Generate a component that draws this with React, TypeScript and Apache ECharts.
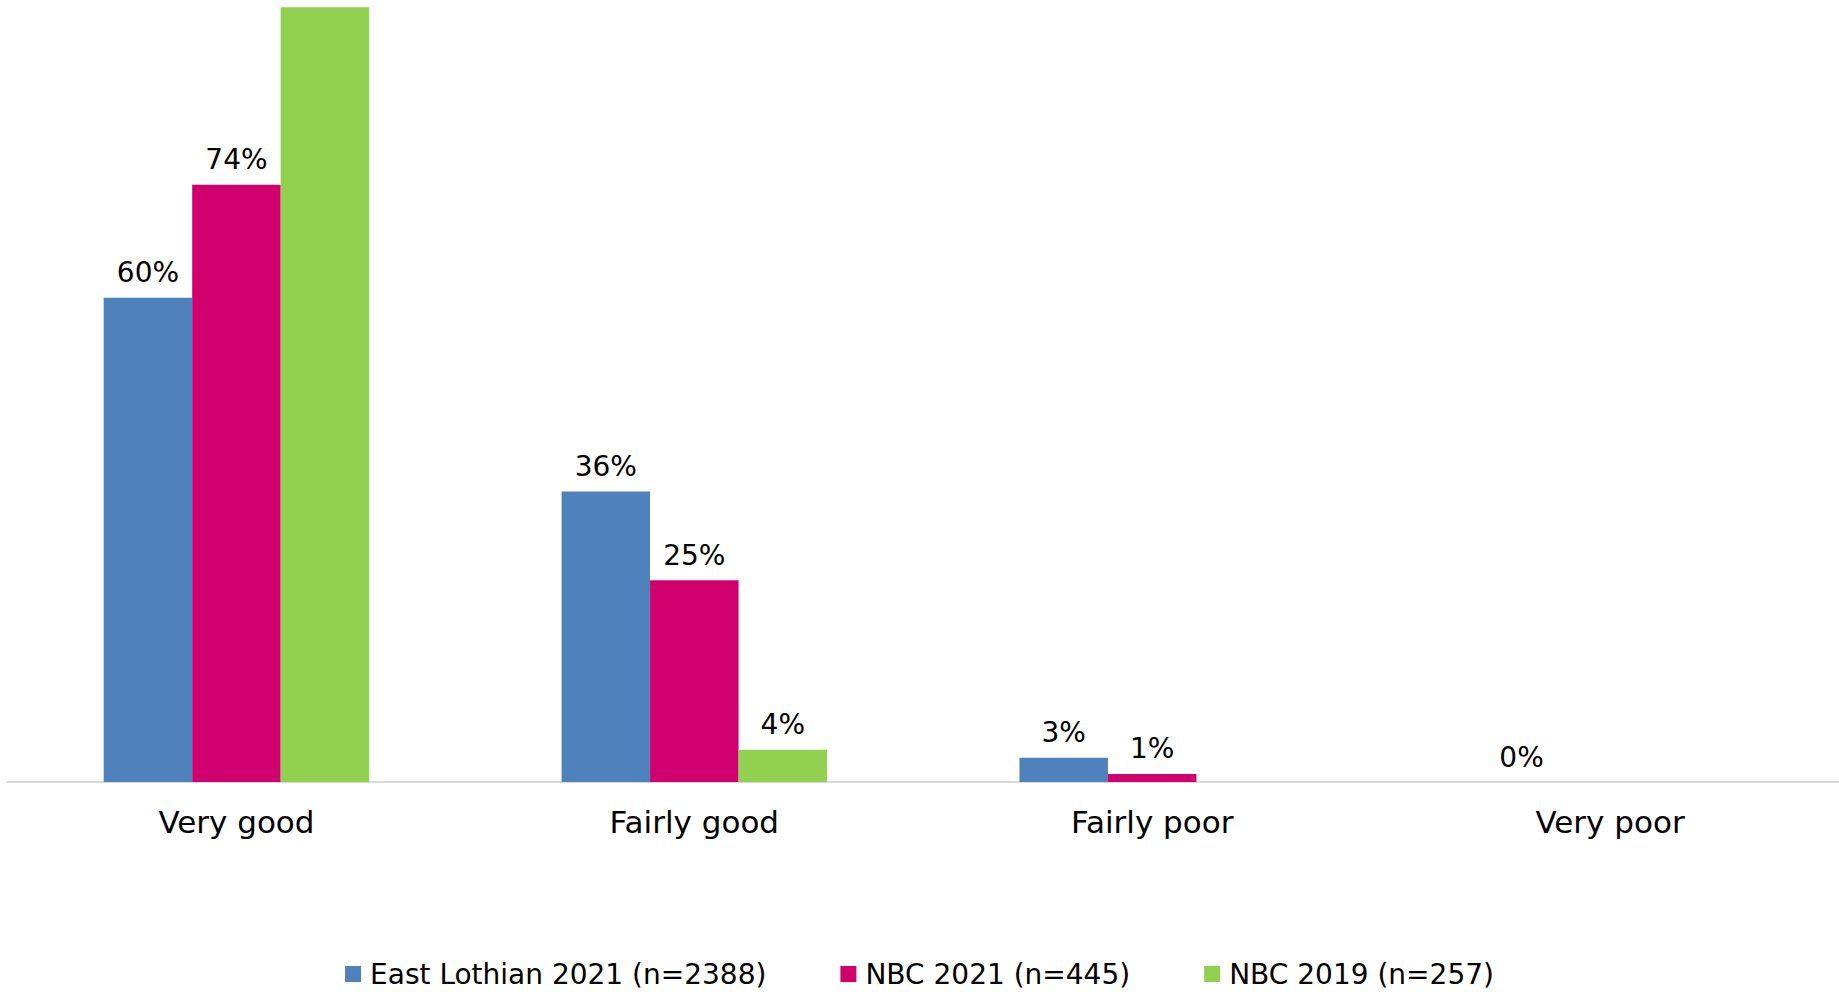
import React, { useEffect, useRef } from "react";
import * as echarts from "echarts";

const categories = ["Very good", "Fairly good", "Fairly poor", "Very poor"];
const seriesNames = ["East Lothian 2021 (n=2388)", "NBC 2021 (n=445)", "NBC 2019 (n=257)"];
const eastLothian2021 = [60, 36, 3, 0];
const nbc2021 = [74, 25, 1, null];
const nbc2019 = [96, 4, null, null];
const colors = ["#4F81BD", "#D0006F", "#92D050"];
// labels that fall outside the visible picture in the reference
const hiddenLabels: [number, number][] = [[2, 0]];

export default function App() {
  const ref = useRef<HTMLDivElement>(null);
  useEffect(() => {
    if (!ref.current) return;
    const chart = echarts.init(ref.current, undefined, { renderer: "svg" });
    const font = "'DejaVu Sans', sans-serif";
    const mk = (si: number, data: (number | null)[]) => ({
      name: seriesNames[si],
      type: "bar" as const,
      data: data.map((v, i) =>
        hiddenLabels.some(([s, c]) => s === si && c === i)
          ? { value: v, label: { show: false } }
          : v
      ),
      barWidth: 88.5,
      barGap: "0%",
      itemStyle: { color: colors[si] },
      label: {
        show: true,
        position: "top" as const,
        distance: 11,
        formatter: "{c}%",
        color: "#000",
        fontSize: 28,
        fontFamily: font,
      },
    });
    chart.setOption({
      animation: false,
      backgroundColor: "#fff",
      legend: {
        bottom: -1,
        left: "center",
        itemWidth: 16,
        itemHeight: 16,
        itemGap: 74,
        icon: "rect",
        textStyle: { fontSize: 28, fontFamily: font, color: "#000", padding: [0, 0, 0, 4] },
        data: seriesNames,
      },
      grid: { left: 7.5, width: 1840, top: 0, bottom: 210, containLabel: false },
      xAxis: {
        type: "category",
        data: categories,
        axisLine: { lineStyle: { color: "#D9D9D9", width: 2 } },
        axisTick: { show: false },
        axisLabel: { fontSize: 31, fontFamily: font, color: "#000", margin: 24 },
      },
      yAxis: { type: "value", min: 0, max: 96.9, show: false, splitLine: { show: false } },
      series: [mk(0, eastLothian2021), mk(1, nbc2021), mk(2, nbc2019)],
    });
    return () => chart.dispose();
  }, []);
  return (
    <div
      ref={ref}
      style={{ position: "fixed", left: 0, top: 0, width: 1839, height: 992 }}
    />
  );
}
